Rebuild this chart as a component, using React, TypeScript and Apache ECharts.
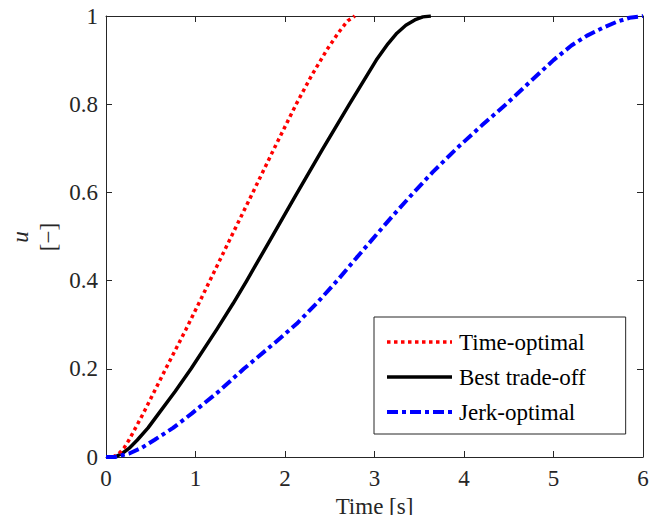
import React, { useEffect, useRef } from "react";
import * as echarts from "echarts";

// Time-optimal (red dotted)
const timeRed = [0, 0.08, 0.145, 0.2, 0.257, 0.33, 0.417, 0.667, 0.89, 1.07, 1.4, 1.61, 1.88, 2.13, 2.3, 2.47, 2.6, 2.7, 2.78];
const uRed = [0, 0, 0.008, 0.02, 0.0385, 0.066, 0.099, 0.2, 0.288, 0.362, 0.5, 0.587, 0.7, 0.802, 0.866, 0.924, 0.963, 0.989, 1];

// Best trade-off (black solid)
const timeBlack = [0, 0.1, 0.18, 0.26, 0.35, 0.47, 0.59, 0.77, 0.95, 1.24, 1.42, 1.57, 1.84, 2.11, 2.42, 2.72, 3.02, 3.15, 3.25, 3.35, 3.45, 3.54, 3.63];
const uBlack = [0, 0, 0.008, 0.02, 0.0385, 0.066, 0.099, 0.148, 0.2, 0.29, 0.348, 0.399, 0.494, 0.59, 0.698, 0.8, 0.9, 0.937, 0.961, 0.979, 0.991, 0.998, 1];

// Jerk-optimal (blue dash-dot)
const timeBlue = [0, 0.1, 0.26, 0.4, 0.54, 0.75, 0.96, 1.25, 1.54, 1.88, 2.13, 2.37, 2.6, 2.8, 3.02, 3.2, 3.43, 3.65, 3.92, 4.2, 4.47, 4.75, 5.0, 5.2, 5.37, 5.55, 5.71, 5.85, 6];
const uBlue = [0, 0, 0.008, 0.021, 0.0385, 0.066, 0.099, 0.147, 0.2, 0.258, 0.302, 0.352, 0.404, 0.452, 0.504, 0.546, 0.598, 0.646, 0.7, 0.752, 0.8, 0.853, 0.9, 0.933, 0.955, 0.973, 0.987, 0.996, 1];

const seriesNames = ["Time-optimal", "Best trade-off", "Jerk-optimal"];
const xTicks = { min: 0, max: 6, interval: 1 };
const yTicks = { min: 0, max: 1, interval: 0.2 };
const xLabel = "Time [s]";
const yLabelMain = "u";
const yLabelUnit = "[\u2212]";

const FONT = "Liberation Serif";
const AXIS_COLOR = "#262626";

function pairs(xs: number[], ys: number[]) {
  return xs.map((x, i) => [x, ys[i]]);
}

export default function App() {
  const ref = useRef<HTMLDivElement>(null);
  useEffect(() => {
    if (!ref.current) return;
    const chart = echarts.init(ref.current, null, { renderer: "svg" });
    const axisCommon = {
      axisLine: { show: true, onZero: false, lineStyle: { color: AXIS_COLOR, width: 1 } },
      axisTick: { show: true, inside: true, length: 6, lineStyle: { color: AXIS_COLOR, width: 1 } },
      splitLine: { show: false },
    };
    chart.setOption({
      animation: false,
      backgroundColor: "#ffffff",
      grid: { left: 106, right: 19, top: 16, bottom: 66, containLabel: false, outerBoundsMode: "none" },
      xAxis: [
        {
          type: "value",
          position: "bottom",
          ...xTicks,
          ...axisCommon,
          axisLabel: { show: true, margin: 10, color: AXIS_COLOR, fontFamily: FONT, fontSize: 23 },
          name: xLabel,
          nameLocation: "middle",
          nameGap: 35,
          nameTextStyle: { color: AXIS_COLOR, fontFamily: FONT, fontSize: 23 },
        },
        {
          type: "value",
          position: "top",
          ...xTicks,
          ...axisCommon,
          axisLabel: { show: false },
        },
      ],
      yAxis: [
        {
          type: "value",
          position: "left",
          ...yTicks,
          ...axisCommon,
          axisLabel: { show: true, margin: 8, color: AXIS_COLOR, fontFamily: FONT, fontSize: 23 },
        },
        {
          type: "value",
          position: "right",
          ...yTicks,
          ...axisCommon,
          axisLabel: { show: false },
        },
      ],
      legend: {
        show: true,
        orient: "vertical",
        left: 374,
        top: 317,
        padding: [12, 40, 9, 11],
        itemWidth: 65,
        itemHeight: 14,
        itemGap: 9,
        borderColor: AXIS_COLOR,
        borderWidth: 1,
        backgroundColor: "#ffffff",
        borderRadius: 0,
        itemStyle: { color: "rgba(0,0,0,0)", borderColor: "rgba(0,0,0,0)", borderWidth: 0, opacity: 0 },
        lineStyle: { width: "inherit", type: "inherit", color: "inherit" },
        textStyle: { color: "#000", fontFamily: FONT, fontSize: 23, lineHeight: 26, padding: [0, 0, 0, 2] },
        data: seriesNames,
      },
      series: [
        {
          name: seriesNames[0],
          type: "line",
          data: pairs(timeRed, uRed),
          xAxisIndex: 0,
          yAxisIndex: 0,
          symbol: "none",
          smooth: false,
          z: 3,
          lineStyle: { color: "#ff0000", width: 3.5, type: [3.5, 3.5], cap: "butt" },
          itemStyle: { color: "#ff0000" },
        },
        {
          name: seriesNames[1],
          type: "line",
          data: pairs(timeBlack, uBlack),
          xAxisIndex: 0,
          yAxisIndex: 0,
          symbol: "none",
          smooth: false,
          z: 2,
          lineStyle: { color: "#000000", width: 3.5, type: "solid", join: "round" },
          itemStyle: { color: "#000000" },
        },
        {
          name: seriesNames[2],
          type: "line",
          data: pairs(timeBlue, uBlue),
          xAxisIndex: 0,
          yAxisIndex: 0,
          symbol: "none",
          smooth: false,
          z: 4,
          lineStyle: { color: "#0000ff", width: 4, type: [11, 4, 4, 4], cap: "butt" },
          itemStyle: { color: "#0000ff" },
        },
      ],
      graphic: [
        {
          type: "text",
          x: 20,
          y: 237,
          rotation: Math.PI / 2,
          style: {
            text: yLabelMain,
            fontFamily: FONT,
            fontStyle: "italic",
            fontSize: 23,
            fill: AXIS_COLOR,
            align: "center",
            verticalAlign: "middle",
          },
        },
        {
          type: "text",
          x: 48,
          y: 237,
          rotation: Math.PI / 2,
          style: {
            text: yLabelUnit,
            fontFamily: FONT,
            fontSize: 23,
            fill: AXIS_COLOR,
            align: "center",
            verticalAlign: "middle",
          },
        },
      ],
    });
    return () => chart.dispose();
  }, []);
  return <div ref={ref} style={{ width: 662, height: 523, margin: -8 }} />;
}
